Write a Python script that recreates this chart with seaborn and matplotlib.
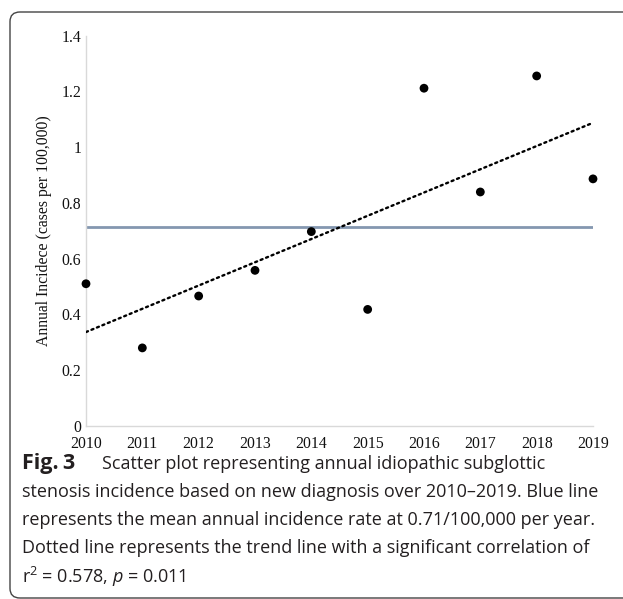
import numpy as np
import pandas as pd
import matplotlib
matplotlib.use("Agg")
import matplotlib.pyplot as plt
from matplotlib.patches import FancyBboxPatch
import seaborn as sns

# ===============================
# DATA
# ===============================
years = [2010, 2011, 2012, 2013, 2014, 2015, 2016, 2017, 2018, 2019]
incidence = [0.51, 0.28, 0.466, 0.558, 0.697, 0.418, 1.211, 0.839, 1.255, 0.886]
y_ticks = [0, 0.2, 0.4, 0.6, 0.8, 1.0, 1.2, 1.4]
y_tick_labels = ["0", "0.2", "0.4", "0.6", "0.8", "1", "1.2", "1.4"]

caption_lines = [
    "stenosis incidence based on new diagnosis over 2010\u20132019. Blue line",
    "represents the mean annual incidence rate at 0.71/100,000 per year.",
    "Dotted line represents the trend line with a significant correlation of",
]

df = pd.DataFrame({"year": years, "incidence": incidence})

sns.set_theme(style="white")
plt.rcParams["font.family"] = ["Liberation Serif", "DejaVu Serif"]
plt.rcParams["mathtext.fontset"] = "custom"
plt.rcParams["mathtext.rm"] = "Open Sans"
plt.rcParams["mathtext.it"] = "Open Sans:italic"

fig = plt.figure(figsize=(6.23, 5.99), dpi=100)
ax = fig.add_axes([86 / 623, 1 - 426 / 599, 507 / 623, 390.5 / 599])

# mean line
ax.axhline(df["incidence"].mean(), color="#8497b0", lw=2.0, zorder=2)

# trend line
sns.regplot(data=df, x="year", y="incidence", scatter=False, ci=None,
            truncate=True, ax=ax,
            line_kws=dict(color="black", lw=1.7, linestyle=(0, (0.9, 1.6)),
                          dash_capstyle="round", zorder=3))

# points
sns.scatterplot(data=df, x="year", y="incidence", ax=ax, color="black",
                s=40, edgecolor="none", zorder=4, clip_on=False)

ax.set_xlim(2010, 2019)
ax.set_ylim(0, 1.4)
ax.set_xticks(years)
ax.set_xticklabels([str(y) for y in years])
ax.set_yticks(y_ticks)
ax.set_yticklabels(y_tick_labels)
ax.tick_params(axis="both", length=0, labelsize=11.3, colors="#111111")
ax.tick_params(axis="x", pad=7)
ax.tick_params(axis="y", pad=3.5)
ax.set_xlabel("")
ax.set_ylabel("Annual Incidece (cases per 100,000)", fontsize=11.3,
              color="#111111", labelpad=7)
for side in ["top", "right"]:
    ax.spines[side].set_visible(False)
for side in ["left", "bottom"]:
    ax.spines[side].set_color("#d9d9d9")
    ax.spines[side].set_linewidth(1.0)

# caption
cap_font = ["Open Sans", "DejaVu Sans"]
cap_size = 13.0
cap_color = "#231f20"
x0 = 22 / 623
line_y = [464, 492, 520, 548]
fig.text(x0, 1 - line_y[0] / 599, "Fig.\u20093", fontsize=15.5,
         fontweight="bold", family=cap_font, color=cap_color, va="center")
fig.text(102 / 623, 1 - line_y[0] / 599,
         "Scatter plot representing annual idiopathic subglottic",
         fontsize=cap_size, family=cap_font, color=cap_color, va="center")
for i, line in enumerate(caption_lines):
    fig.text(x0, 1 - line_y[i + 1] / 599, line, fontsize=cap_size,
             family=cap_font, color=cap_color, va="center")
fig.text(x0, 1 - 577 / 599, r"r$^{2}$ = 0.578, $p$ = 0.011", fontsize=cap_size,
         family=cap_font, color=cap_color, va="center")

# rounded frame
frame = FancyBboxPatch((10 / 623, 1 / 599), 1.2, (586 / 599),
                       boxstyle="round,pad=0,rounding_size=0.016",
                       transform=fig.transFigure, fill=False,
                       edgecolor="#444444", lw=1.0, clip_on=False)
fig.patches.append(frame)

fig.savefig("out.png", dpi=100)
